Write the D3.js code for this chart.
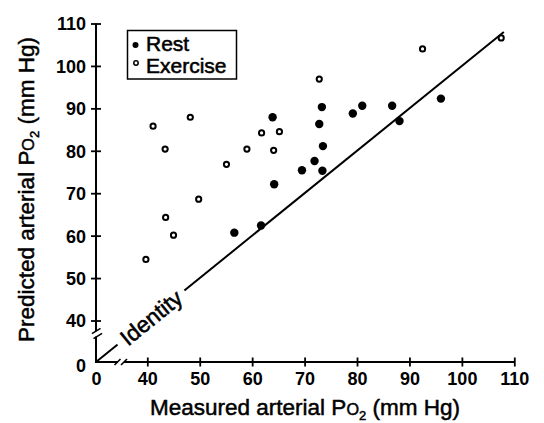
<!DOCTYPE html>
<html><head><meta charset="utf-8">
<script src="https://cdn.jsdelivr.net/npm/d3@7"></script>
<style>body{margin:0;background:#fff;} svg{display:block}</style>
</head><body>
<svg id="c" width="544" height="423"></svg>
<script>
// ---- data ----
const seriesNames = ["Rest", "Exercise"];
const restX = [56.6, 61.7, 63.9, 64.2, 69.5, 71.9, 73.4, 72.8, 73.5, 73.3, 79.2, 81.0, 86.7, 88.1, 96.0];
const restY = [60.7, 62.4, 87.9, 72.1, 75.4, 77.6, 75.3, 86.3, 81.1, 90.3, 88.8, 90.6, 90.6, 87.0, 92.3];
const exerciseX = [38.9, 41.1, 43.4, 43.5, 45.0, 48.2, 49.8, 55.1, 59.0, 61.8, 64.1, 65.2, 72.8, 92.5, 107.5];
const exerciseY = [54.4, 85.8, 80.4, 64.3, 60.1, 87.9, 68.6, 76.8, 80.4, 84.2, 80.1, 84.5, 96.9, 104.0, 106.6];
const xTicks = [0, 40, 50, 60, 70, 80, 90, 100, 110];
const yTicks = [0, 40, 50, 60, 70, 80, 90, 100, 110];
const identityRange = [0, 108];
const identityLabelAt = 40.7;

// ---- drawing ----
const svg = d3.select("#c");
const FONT = "'Liberation Sans', Arial, Helvetica, sans-serif";
const x = d3.scaleLinear().domain([0, 40, 110]).range([96, 147.3, 514.3]);
const y = d3.scaleLinear().domain([0, 40, 110]).range([362, 320.5, 23.5]);

// x axis
const gx = svg.append("g").attr("transform", `translate(0,${y(0)})`)
  .call(d3.axisBottom(x).tickValues(xTicks).tickSize(4.5).tickFormat(d3.format("d")));
gx.select(".domain").remove();
gx.selectAll(".tick line").attr("y1", -4.5).attr("y2", 4.5).attr("stroke-width", 1.8)
  .attr("display", d => d === 0 ? "none" : null);
gx.selectAll(".tick text").attr("y", 23).attr("dy", 0)
  .attr("font-family", FONT).attr("font-size", 18).attr("font-weight", "bold").attr("fill", "#000");

// y axis
const gy = svg.append("g").attr("transform", `translate(${x(0)},0)`)
  .call(d3.axisLeft(y).tickValues(yTicks).tickSize(5).tickFormat(d3.format("d")));
gy.select(".domain").remove();
gy.selectAll(".tick line").attr("x1", 5).attr("x2", -5).attr("stroke-width", 1.8)
  .attr("display", d => d === 0 ? "none" : null);
gy.selectAll(".tick text").attr("x", -10).attr("dy", "0.36em")
  .attr("font-family", FONT).attr("font-size", 18).attr("font-weight", "bold").attr("fill", "#000");
gy.selectAll(".tick").filter(d => d === 0).select("text").attr("dy", "0.5em");

// axis lines with breaks
const axisG = svg.append("g").attr("stroke", "#000").attr("stroke-width", 2).attr("fill", "none");
const x0 = x(0), y0 = y(0), y40 = y(40);
axisG.append("line").attr("x1", x0).attr("x2", x0).attr("y1", y(110)).attr("y2", y40 + 10.5);
axisG.append("line").attr("x1", x0).attr("x2", x0).attr("y1", y40 + 16).attr("y2", y0 + 1);
axisG.append("line").attr("x1", x0 - 1).attr("x2", x0 + 22).attr("y1", y0).attr("y2", y0);
axisG.append("line").attr("x1", x0 + 28).attr("x2", x(110)).attr("y1", y0).attr("y2", y0);
// break slashes
[[x0 + 0.2, y40 + 10.5], [x0 + 1.8, y40 + 15.5]].forEach(([cx, cy]) =>
  axisG.append("line").attr("x1", cx - 4.3).attr("y1", cy + 2.6).attr("x2", cx + 4.3).attr("y2", cy - 2.6).attr("stroke-width", 1.6));
[[x0 + 21.5, y0], [x0 + 28, y0]].forEach(([cx, cy]) =>
  axisG.append("line").attr("x1", cx - 3).attr("y1", cy + 3).attr("x2", cx + 3).attr("y2", cy - 3).attr("stroke-width", 1.6));

// identity line
svg.append("line")
  .attr("x1", x(identityRange[0])).attr("y1", y(identityRange[0]))
  .attr("x2", x(identityRange[1])).attr("y2", y(identityRange[1]))
  .attr("stroke", "#000").attr("stroke-width", 2);
const ang = Math.atan2(y(40) - y(108), x(108) - x(40)) * 180 / Math.PI;
const lab = svg.append("g")
  .attr("transform", `translate(${x(identityLabelAt)},${y(identityLabelAt)}) rotate(${-ang})`);
lab.append("rect").attr("x", -43).attr("y", -12).attr("width", 86).attr("height", 24).attr("fill", "#fff");
lab.append("text").attr("text-anchor", "middle").attr("dy", "0.36em")
  .attr("font-family", FONT).attr("font-size", 22.5).attr("stroke", "#000").attr("stroke-width", 0.55)
  .text("Identity");

// points
const restData = restX.map((v, i) => [v, restY[i]]);
const exData = exerciseX.map((v, i) => [v, exerciseY[i]]);
svg.append("g").selectAll("circle").data(exData).join("circle")
  .attr("cx", d => x(d[0])).attr("cy", d => y(d[1])).attr("r", 2.6)
  .attr("fill", "#fff").attr("stroke", "#000").attr("stroke-width", 2);
svg.append("g").selectAll("circle").data(restData).join("circle")
  .attr("cx", d => x(d[0])).attr("cy", d => y(d[1])).attr("r", 4.2).attr("fill", "#000");

// legend
const lg = svg.append("g");
lg.append("rect").attr("x", 127.5).attr("y", 30.5).attr("width", 109).attr("height", 48.5)
  .attr("fill", "#fff").attr("stroke", "#000").attr("stroke-width", 1.5);
lg.append("circle").attr("cx", 135.5).attr("cy", 45).attr("r", 3).attr("fill", "#000");
lg.append("circle").attr("cx", 136).attr("cy", 63).attr("r", 2.2).attr("fill", "#fff").attr("stroke", "#000").attr("stroke-width", 1.5);
lg.selectAll("text.l").data(seriesNames).join("text").attr("class", "l")
  .attr("x", 146).attr("y", (d, i) => 50.5 + i * 22)
  .attr("font-family", FONT).attr("font-size", 21).attr("stroke", "#000").attr("stroke-width", 0.55)
  .text(d => d);

// axis titles
function title(sel, pre) {
  sel.attr("font-family", FONT).attr("font-size", 22.5).attr("text-anchor", "middle")
    .attr("stroke", "#000").attr("stroke-width", 0.5);
  sel.append("tspan").text(pre + "P");
  sel.append("tspan").attr("font-size", 16.2).text("O");
  sel.append("tspan").attr("font-size", 13).attr("dy", 5).text("2");
  sel.append("tspan").attr("dy", -5).text(" (mm Hg)");
}
svg.append("text").attr("x", 305).attr("y", 414.5).call(title, "Measured arterial ");
svg.append("text").attr("transform", "translate(34,189.5) rotate(-90)").call(title, "Predicted arterial ");
</script>
</body></html>
